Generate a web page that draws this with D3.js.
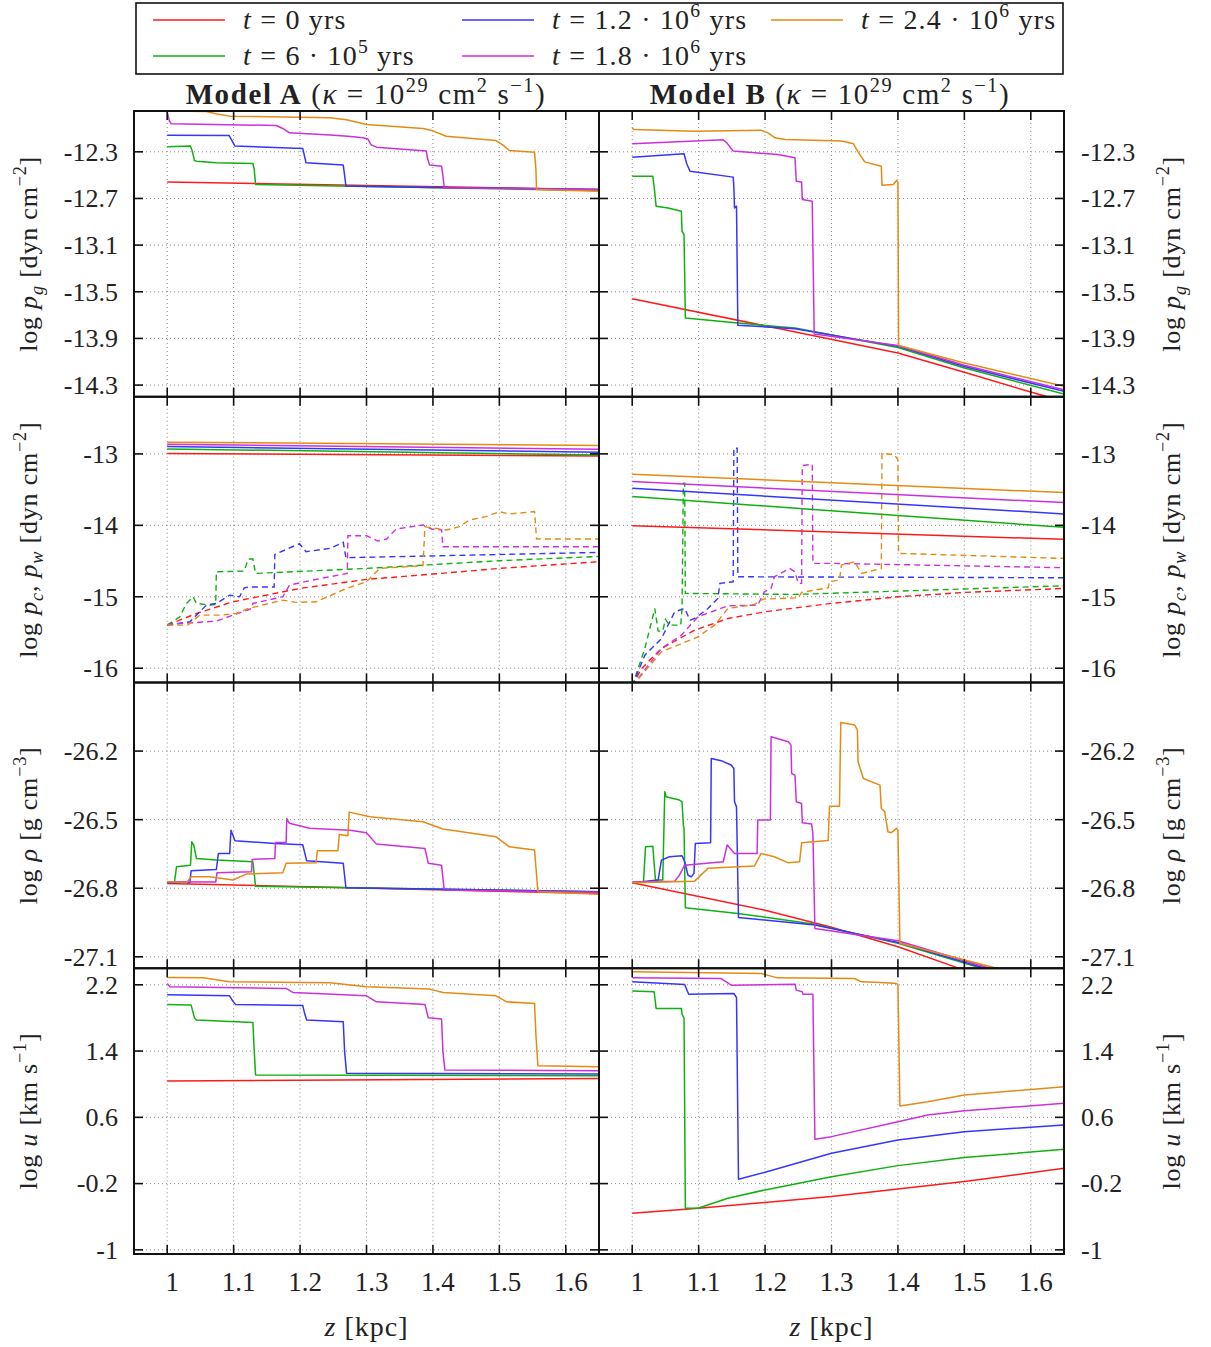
<!DOCTYPE html>
<html>
<head>
<meta charset="utf-8">
<script src="https://cdn.jsdelivr.net/npm/d3@7"></script>
<style>
  body { margin: 0; background: #fff; }
  svg text { font-family: "Liberation Serif", "DejaVu Serif", serif; fill: #222; white-space: pre; }
</style>
</head>
<body>
<svg id="chart" width="1211" height="1347" xml:space="preserve"></svg>
<script>
// series order everywhere: t = 0, 6e5, 1.2e6, 1.8e6, 2.4e6 yrs
var colors = ["#ff1a1a", "#10b010", "#3535ff", "#cc30dd", "#e68a12"];
var legendMain = [" = 0 yrs", " = 6 · 10", " = 1.2 · 10", " = 1.8 · 10", " = 2.4 · 10"];
var legendExp = ["", "5", "6", "6", "6"];

var zTicks = [1, 1.1, 1.2, 1.3, 1.4, 1.5, 1.6];
var zTickLabels = ["1", "1.1", "1.2", "1.3", "1.4", "1.5", "1.6"];

var pgTicks = [-12.3, -12.7, -13.1, -13.5, -13.9, -14.3];
var pgTickLabels = ["-12.3", "-12.7", "-13.1", "-13.5", "-13.9", "-14.3"];
var pTicks = [-13, -14, -15, -16];
var pTickLabels = ["-13", "-14", "-15", "-16"];
var rhoTicks = [-26.2, -26.5, -26.8, -27.1];
var rhoTickLabels = ["-26.2", "-26.5", "-26.8", "-27.1"];
var uTicks = [2.2, 1.4, 0.6, -0.2, -1];
var uTickLabels = ["2.2", "1.4", "0.6", "-0.2", "-1"];

// log p_g, model A
var pgA = [
  [[1.0,-12.558],[1.65,-12.623]],
  [[1.0,-12.257],[1.035,-12.251],[1.038,-12.30],[1.041,-12.375],[1.044,-12.380],[1.074,-12.394],[1.129,-12.400],[1.131,-12.45],[1.133,-12.580],[1.30,-12.598],[1.65,-12.632]],
  [[1.0,-12.157],[1.093,-12.160],[1.097,-12.20],[1.102,-12.251],[1.204,-12.271],[1.206,-12.32],[1.209,-12.394],[1.265,-12.414],[1.267,-12.50],[1.269,-12.592],[1.40,-12.605],[1.65,-12.623]],
  [[1.0,-11.957],[1.003,-12.03],[1.006,-12.060],[1.164,-12.074],[1.174,-12.10],[1.184,-12.137],[1.245,-12.155],[1.272,-12.166],[1.295,-12.18],[1.302,-12.19],[1.307,-12.24],[1.315,-12.260],[1.390,-12.294],[1.392,-12.36],[1.395,-12.414],[1.413,-12.423],[1.415,-12.5],[1.417,-12.609],[1.65,-12.623]],
  [[1.0,-11.951],[1.059,-11.955],[1.075,-11.975],[1.094,-11.994],[1.245,-12.008],[1.27,-12.025],[1.30,-12.065],[1.385,-12.100],[1.40,-12.12],[1.42,-12.166],[1.495,-12.203],[1.505,-12.24],[1.515,-12.289],[1.553,-12.303],[1.555,-12.45],[1.556,-12.623],[1.65,-12.638]]
];
// log p_g, model B
var pgB = [
  [[1.0,-13.559],[1.2,-13.792],[1.4,-14.025],[1.5,-14.19],[1.6,-14.36],[1.65,-14.44]],
  [[1.0,-12.509],[1.031,-12.509],[1.033,-12.60],[1.036,-12.766],[1.054,-12.781],[1.074,-12.809],[1.075,-12.981],[1.078,-13.010],[1.080,-13.725],[1.159,-13.768],[1.245,-13.811],[1.40,-13.977],[1.50,-14.154],[1.65,-14.377]],
  [[1.0,-12.346],[1.078,-12.317],[1.082,-12.40],[1.087,-12.466],[1.152,-12.517],[1.153,-12.600],[1.154,-12.781],[1.157,-12.766],[1.159,-13.788],[1.245,-13.816],[1.40,-13.968],[1.50,-14.14],[1.65,-14.354]],
  [[1.0,-12.231],[1.137,-12.197],[1.142,-12.22],[1.152,-12.294],[1.219,-12.323],[1.245,-12.351],[1.247,-12.552],[1.255,-12.558],[1.256,-12.709],[1.271,-12.723],[1.274,-13.862],[1.40,-13.960],[1.50,-14.13],[1.65,-14.340]],
  [[1.0,-12.094],[1.002,-12.108],[1.094,-12.123],[1.194,-12.114],[1.205,-12.14],[1.215,-12.18],[1.230,-12.194],[1.315,-12.208],[1.333,-12.231],[1.340,-12.30],[1.350,-12.386],[1.375,-12.423],[1.376,-12.586],[1.393,-12.58],[1.398,-12.546],[1.400,-12.56],[1.401,-13.960],[1.50,-14.11],[1.65,-14.311]]
];

// log p (solid) and dashed pressure, model A
var pwA = [
  [[1.0,-12.995],[1.65,-13.028]],
  [[1.0,-12.930],[1.65,-13.014]],
  [[1.0,-12.897],[1.65,-12.977]],
  [[1.0,-12.864],[1.65,-12.935]],
  [[1.0,-12.836],[1.65,-12.883]]
];
var pcA = [
  [[1.0,-15.397],[1.044,-15.234],[1.099,-15.070],[1.2,-14.883],[1.3,-14.757],[1.4,-14.682],[1.5,-14.603],[1.65,-14.509]],
  [[1.0,-15.397],[1.019,-15.280],[1.029,-15.093],[1.039,-15.000],[1.044,-15.093],[1.064,-15.117],[1.073,-15.107],[1.074,-14.650],[1.116,-14.640],[1.122,-14.472],[1.129,-14.472],[1.133,-14.673],[1.30,-14.603],[1.50,-14.495],[1.65,-14.435]],
  [[1.0,-15.397],[1.034,-15.350],[1.059,-15.117],[1.074,-15.093],[1.094,-14.977],[1.109,-15.000],[1.116,-14.874],[1.124,-14.864],[1.161,-14.864],[1.162,-14.407],[1.199,-14.257],[1.209,-14.369],[1.245,-14.322],[1.265,-14.238],[1.269,-14.453],[1.65,-14.379]],
  [[1.0,-15.388],[1.074,-15.341],[1.099,-15.257],[1.127,-15.164],[1.129,-15.093],[1.174,-15.000],[1.184,-14.836],[1.219,-14.766],[1.271,-14.673],[1.272,-14.145],[1.300,-14.145],[1.317,-14.220],[1.330,-14.192],[1.345,-14.051],[1.385,-13.995],[1.398,-14.051],[1.413,-14.065],[1.415,-14.299],[1.65,-14.299]],
  [[1.0,-15.397],[1.031,-15.397],[1.049,-15.257],[1.079,-15.257],[1.104,-15.234],[1.122,-15.164],[1.174,-15.047],[1.194,-15.079],[1.224,-15.070],[1.270,-14.883],[1.300,-14.790],[1.320,-14.603],[1.385,-14.565],[1.388,-14.019],[1.420,-14.065],[1.440,-14.019],[1.455,-13.925],[1.480,-13.879],[1.500,-13.808],[1.515,-13.841],[1.553,-13.808],[1.556,-14.192],[1.65,-14.192]]
];
// model B
var pwB = [
  [[1.0,-14.005],[1.65,-14.196]],
  [[1.0,-13.598],[1.65,-14.028]],
  [[1.0,-13.481],[1.65,-13.841]],
  [[1.0,-13.388],[1.65,-13.682]],
  [[1.0,-13.285],[1.65,-13.542]]
];
var pcB = [
  [[1.0,-16.25],[1.014,-16.005],[1.044,-15.724],[1.094,-15.467],[1.144,-15.304],[1.2,-15.210],[1.3,-15.093],[1.4,-15.000],[1.5,-14.939],[1.65,-14.883]],
  [[1.0,-16.25],[1.019,-15.724],[1.034,-15.164],[1.039,-15.481],[1.046,-15.481],[1.050,-15.313],[1.056,-15.397],[1.073,-15.397],[1.075,-15.164],[1.077,-13.411],[1.079,-13.411],[1.080,-14.953],[1.245,-14.967],[1.65,-14.846]],
  [[1.0,-16.25],[1.019,-15.818],[1.044,-15.584],[1.064,-15.210],[1.079,-15.164],[1.087,-15.327],[1.094,-15.304],[1.104,-15.234],[1.114,-15.164],[1.129,-15.023],[1.132,-14.813],[1.152,-14.790],[1.153,-12.920],[1.158,-12.920],[1.159,-14.720],[1.65,-14.734]],
  [[1.0,-16.25],[1.044,-15.724],[1.074,-15.537],[1.099,-15.280],[1.144,-15.126],[1.189,-15.117],[1.199,-14.930],[1.209,-14.883],[1.214,-14.720],[1.237,-14.603],[1.245,-14.650],[1.250,-14.813],[1.255,-14.813],[1.256,-13.164],[1.271,-13.145],[1.272,-14.533],[1.305,-14.533],[1.65,-14.593]],
  [[1.0,-16.25],[1.044,-15.771],[1.099,-15.561],[1.124,-15.397],[1.144,-15.164],[1.184,-15.107],[1.197,-15.033],[1.250,-15.014],[1.255,-14.939],[1.295,-14.874],[1.297,-14.790],[1.312,-14.766],[1.315,-14.556],[1.335,-14.509],[1.345,-14.673],[1.375,-14.603],[1.376,-12.991],[1.395,-13.014],[1.400,-13.084],[1.401,-14.393],[1.65,-14.463]]
];

// log rho
var rhoA = [
  [[1.0,-26.779],[1.65,-26.823]],
  [[1.0,-26.776],[1.011,-26.772],[1.014,-26.706],[1.035,-26.699],[1.037,-26.597],[1.040,-26.611],[1.044,-26.670],[1.074,-26.677],[1.129,-26.684],[1.133,-26.791],[1.65,-26.815]],
  [[1.0,-26.776],[1.034,-26.776],[1.036,-26.724],[1.074,-26.718],[1.077,-26.648],[1.094,-26.648],[1.096,-26.546],[1.102,-26.592],[1.162,-26.604],[1.204,-26.610],[1.210,-26.680],[1.265,-26.691],[1.269,-26.798],[1.65,-26.815]],
  [[1.0,-26.772],[1.073,-26.773],[1.075,-26.732],[1.127,-26.728],[1.128,-26.674],[1.162,-26.670],[1.163,-26.600],[1.179,-26.600],[1.180,-26.495],[1.184,-26.516],[1.214,-26.538],[1.275,-26.546],[1.300,-26.557],[1.315,-26.607],[1.388,-26.626],[1.393,-26.691],[1.413,-26.699],[1.417,-26.808],[1.65,-26.817]],
  [[1.0,-26.772],[1.029,-26.776],[1.036,-26.750],[1.064,-26.750],[1.099,-26.764],[1.119,-26.738],[1.174,-26.732],[1.179,-26.691],[1.224,-26.689],[1.226,-26.636],[1.257,-26.636],[1.259,-26.565],[1.272,-26.570],[1.274,-26.467],[1.305,-26.487],[1.385,-26.509],[1.415,-26.541],[1.495,-26.575],[1.515,-26.619],[1.553,-26.633],[1.558,-26.815],[1.65,-26.826]]
];
var rhoB = [
  [[1.0,-26.776],[1.2,-26.896],[1.3,-26.971],[1.4,-27.056],[1.488,-27.146],[1.65,-27.311]],
  [[1.0,-26.776],[1.017,-26.772],[1.020,-26.619],[1.031,-26.616],[1.035,-26.764],[1.046,-26.764],[1.049,-26.378],[1.051,-26.400],[1.071,-26.414],[1.075,-26.422],[1.077,-26.524],[1.078,-26.538],[1.080,-26.885],[1.159,-26.910],[1.275,-26.958],[1.400,-27.041],[1.521,-27.146],[1.65,-27.26]],
  [[1.0,-26.776],[1.039,-26.764],[1.044,-26.677],[1.056,-26.662],[1.075,-26.658],[1.079,-26.684],[1.084,-26.743],[1.089,-26.750],[1.093,-26.735],[1.095,-26.604],[1.118,-26.601],[1.119,-26.232],[1.134,-26.242],[1.149,-26.261],[1.153,-26.276],[1.154,-26.422],[1.157,-26.444],[1.160,-26.928],[1.275,-26.961],[1.400,-27.037],[1.526,-27.146],[1.65,-27.253]],
  [[1.0,-26.773],[1.064,-26.769],[1.071,-26.743],[1.079,-26.699],[1.137,-26.684],[1.143,-26.611],[1.154,-26.648],[1.188,-26.648],[1.189,-26.502],[1.208,-26.502],[1.209,-26.137],[1.235,-26.159],[1.239,-26.174],[1.240,-26.298],[1.245,-26.305],[1.247,-26.422],[1.255,-26.429],[1.256,-26.514],[1.270,-26.519],[1.272,-26.560],[1.275,-26.976],[1.400,-27.030],[1.533,-27.146],[1.65,-27.246]],
  [[1.0,-26.776],[1.094,-26.769],[1.114,-26.713],[1.184,-26.703],[1.194,-26.648],[1.214,-26.662],[1.235,-26.689],[1.252,-26.684],[1.255,-26.601],[1.295,-26.591],[1.297,-26.441],[1.312,-26.441],[1.314,-26.075],[1.335,-26.086],[1.339,-26.108],[1.340,-26.247],[1.348,-26.320],[1.373,-26.349],[1.375,-26.451],[1.380,-26.465],[1.385,-26.553],[1.390,-26.557],[1.398,-26.538],[1.400,-26.546],[1.403,-27.041],[1.543,-27.146],[1.65,-27.238]]
];

// log u
var uA = [
  [[1.0,1.038],[1.65,1.070]],
  [[1.0,1.963],[1.036,1.955],[1.041,1.80],[1.044,1.774],[1.129,1.746],[1.131,1.40],[1.133,1.111],[1.65,1.103]],
  [[1.0,2.079],[1.094,2.067],[1.099,2.00],[1.103,1.963],[1.204,1.951],[1.207,1.85],[1.210,1.774],[1.265,1.754],[1.267,1.40],[1.270,1.131],[1.65,1.123]],
  [[1.0,2.216],[1.004,2.176],[1.179,2.156],[1.189,2.108],[1.300,2.067],[1.315,1.995],[1.388,1.963],[1.393,1.802],[1.413,1.786],[1.415,1.40],[1.418,1.171],[1.65,1.163]],
  [[1.0,2.288],[1.054,2.284],[1.094,2.236],[1.245,2.224],[1.300,2.176],[1.395,2.148],[1.415,2.108],[1.495,2.067],[1.511,1.995],[1.553,1.975],[1.555,1.60],[1.558,1.223],[1.65,1.211]]
];
var uB = [
  [[1.0,-0.558],[1.1,-0.497],[1.3,-0.357],[1.4,-0.264],[1.5,-0.176],[1.65,-0.015]],
  [[1.0,2.124],[1.033,2.116],[1.036,1.915],[1.074,1.915],[1.075,1.842],[1.078,1.802],[1.080,-0.497],[1.099,-0.497],[1.144,-0.377],[1.2,-0.276],[1.3,-0.116],[1.4,0.017],[1.5,0.114],[1.65,0.214]],
  [[1.0,2.236],[1.079,2.204],[1.085,2.087],[1.153,2.095],[1.157,2.047],[1.160,-0.148],[1.2,-0.063],[1.3,0.166],[1.4,0.327],[1.5,0.427],[1.65,0.508]],
  [[1.0,2.284],[1.134,2.276],[1.149,2.196],[1.245,2.208],[1.247,2.136],[1.256,2.116],[1.257,2.087],[1.272,2.087],[1.275,0.335],[1.3,0.367],[1.4,0.548],[1.445,0.628],[1.5,0.680],[1.65,0.769]],
  [[1.0,2.357],[1.194,2.337],[1.219,2.284],[1.335,2.276],[1.345,2.236],[1.375,2.228],[1.398,2.216],[1.400,2.196],[1.403,0.737],[1.445,0.789],[1.5,0.869],[1.65,0.970]]
];

var pgLabel = [["log "], ["p", "I"], ["g", "I_"], [" [dyn cm"], ["−2", "^"], ["]"]];
var pLabel = [["log "], ["p", "I"], ["c", "I_"], [", "], ["p", "I"], ["w", "I_"], [" [dyn cm"], ["−2", "^"], ["]"]];
var rhoLabel = [["log "], ["ρ", "I"], [" [g cm"], ["−3", "^"], ["]"]];
var uLabel = [["log "], ["u", "I"], [" [km s"], ["−1", "^"], ["]"]];

var svg = d3.select("#chart");
var panelW = 465, rowH = 285.75, top0 = 111;
var lefts = [134, 599];

// text with italic / bold / super / subscript pieces
function rich(sel, parts, fs) {
  var shift = 0;
  parts.forEach(function(p) {
    var st = p[1] || "";
    var target = st.indexOf("^") >= 0 ? -0.42 * fs : (st.indexOf("_") >= 0 ? 0.22 * fs : 0);
    var ts = sel.append("tspan").text(p[0]).attr("dy", target - shift);
    shift = target;
    if (target !== 0) ts.attr("font-size", 0.7 * fs);
    if (st.indexOf("I") >= 0) ts.attr("font-style", "italic");
    if (st.indexOf("B") >= 0) ts.attr("font-weight", "bold");
  });
}

var rowDefs = [
  {dom: [-14.4, -11.95], ticks: pgTicks, tl: pgTickLabels, label: pgLabel, A: pgA, B: pgB},
  {dom: [-16.2, -12.2], ticks: pTicks, tl: pTickLabels, label: pLabel, A: pwA, B: pwB, dA: pcA, dB: pcB},
  {dom: [-27.15, -25.9], ticks: rhoTicks, tl: rhoTickLabels, label: rhoLabel, A: rhoA, B: rhoB},
  {dom: [-1.05, 2.4], ticks: uTicks, tl: uTickLabels, label: uLabel, A: uA, B: uB}
];

var defs = svg.append("defs");

rowDefs.forEach(function(row, ri) {
  var top = top0 + ri * rowH;
  var y = d3.scaleLinear().domain(row.dom).range([top + rowH, top]);

  [0, 1].forEach(function(pi) {
    var left = lefts[pi];
    var x = d3.scaleLinear().domain([0.95, 1.65]).range([left, left + panelW]);
    var g = svg.append("g");
    var clipId = "clip" + ri + "_" + pi;
    defs.append("clipPath").attr("id", clipId).append("rect")
      .attr("x", left).attr("y", top).attr("width", panelW).attr("height", rowH);

    // dotted grid
    g.selectAll(".gx").data(zTicks).enter().append("line")
      .attr("x1", function(d) { return x(d); }).attr("x2", function(d) { return x(d); })
      .attr("y1", top).attr("y2", top + rowH)
      .attr("stroke", "#8a8a8a").attr("stroke-width", 1).attr("stroke-dasharray", "1,3");
    g.selectAll(".gy").data(row.ticks).enter().append("line")
      .attr("x1", left).attr("x2", left + panelW)
      .attr("y1", function(d) { return y(d); }).attr("y2", function(d) { return y(d); })
      .attr("stroke", "#8a8a8a").attr("stroke-width", 1).attr("stroke-dasharray", "1,3");

    var line = d3.line().x(function(d) { return x(d[0]); }).y(function(d) { return y(d[1]); });
    var lg = g.append("g").attr("clip-path", "url(#" + clipId + ")");
    var dashed = pi === 0 ? row.dA : row.dB;
    if (dashed) {
      lg.selectAll(".dash").data(dashed).enter().append("path")
        .attr("d", line).attr("fill", "none")
        .attr("stroke", function(d, i) { return colors[i]; })
        .attr("stroke-width", 1.4).attr("stroke-dasharray", "6,4");
    }
    lg.selectAll(".solid").data(pi === 0 ? row.A : row.B).enter().append("path")
      .attr("d", line).attr("fill", "none")
      .attr("stroke", function(d, i) { return colors[i]; })
      .attr("stroke-width", 1.5).attr("stroke-linejoin", "round");

    // frame and inward ticks
    g.append("rect").attr("x", left).attr("y", top).attr("width", panelW).attr("height", rowH)
      .attr("fill", "none").attr("stroke", "#111").attr("stroke-width", 2);
    var tk = 9;
    zTicks.forEach(function(t) {
      g.append("line").attr("x1", x(t)).attr("x2", x(t)).attr("y1", top).attr("y2", top + tk)
        .attr("stroke", "#111").attr("stroke-width", 1.6);
      g.append("line").attr("x1", x(t)).attr("x2", x(t)).attr("y1", top + rowH - tk).attr("y2", top + rowH)
        .attr("stroke", "#111").attr("stroke-width", 1.6);
    });
    row.ticks.forEach(function(t) {
      g.append("line").attr("x1", left).attr("x2", left + tk).attr("y1", y(t)).attr("y2", y(t))
        .attr("stroke", "#111").attr("stroke-width", 1.6);
      g.append("line").attr("x1", left + panelW - tk).attr("x2", left + panelW).attr("y1", y(t)).attr("y2", y(t))
        .attr("stroke", "#111").attr("stroke-width", 1.6);
    });

    // z tick labels and axis title under bottom row
    if (ri === 3) {
      g.selectAll(".xl").data(zTicks).enter().append("text")
        .attr("x", function(d) { return x(d) + 5; }).attr("y", 1291)
        .attr("text-anchor", "middle").attr("font-size", 27)
        .text(function(d, i) { return zTickLabels[i]; });
      var xt = g.append("text").attr("x", left + panelW / 2).attr("y", 1336)
        .attr("text-anchor", "middle").attr("font-size", 28).attr("letter-spacing", 1);
      rich(xt, [["z", "I"], [" [kpc]"]], 28);
    }
  });

  // y tick labels left and right
  var fsT = 26;
  row.ticks.forEach(function(t, i) {
    svg.append("text").attr("x", 118).attr("y", y(t) + 0.34 * fsT)
      .attr("text-anchor", "end").attr("font-size", fsT).text(row.tl[i]);
    svg.append("text").attr("x", 1081).attr("y", y(t) + 0.34 * fsT)
      .attr("text-anchor", "start").attr("font-size", fsT).text(row.tl[i]);
  });

  // rotated axis labels
  [28, 1171].forEach(function(cx) {
    var t = svg.append("text")
      .attr("transform", "translate(" + cx + "," + (top + rowH / 2) + ") rotate(-90)")
      .attr("y", 0.35 * 26).attr("text-anchor", "middle").attr("font-size", 26)
      .attr("letter-spacing", 0.8);
    rich(t, row.label, 26);
  });
});

// panel titles
var titleParts = function(name) {
  return [[name, "B"], [" ("], ["κ", "I"], [" = 10"], ["29", "^"], [" cm"], ["2", "^"], [" s"], ["−1", "^"], [")"]];
};
[["Model A", 366], ["Model B", 830]].forEach(function(m) {
  var t = svg.append("text").attr("x", m[1]).attr("y", 104)
    .attr("text-anchor", "middle").attr("font-size", 29).attr("letter-spacing", 1.6);
  rich(t, titleParts(m[0]), 29);
});

// legend
svg.append("rect").attr("x", 136).attr("y", 3).attr("width", 927).attr("height", 71)
  .attr("fill", "#fff").attr("stroke", "#111").attr("stroke-width", 1.6);
var colX = [153, 462, 771];
var rowY = [20, 56];
colors.forEach(function(c, i) {
  var cx = colX[Math.floor(i / 2)], cy = rowY[i % 2];
  svg.append("line").attr("x1", cx).attr("x2", cx + 72).attr("y1", cy).attr("y2", cy)
    .attr("stroke", c).attr("stroke-width", 1.4);
  var t = svg.append("text").attr("x", cx + 90).attr("y", cy + 9).attr("font-size", 28)
    .attr("letter-spacing", 1.2);
  var parts = [["t", "I"], [legendMain[i]]];
  if (legendExp[i]) parts.push([legendExp[i], "^"]);
  parts.push([legendExp[i] ? " yrs" : ""]);
  rich(t, parts, 28);
});
</script>
</body>
</html>
